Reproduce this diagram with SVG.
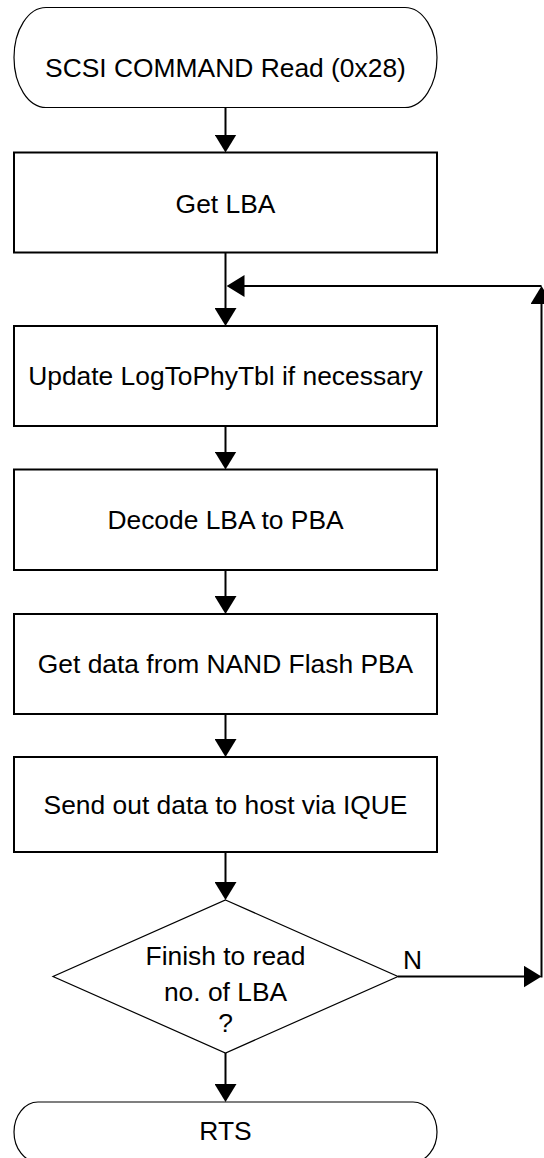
<svg xmlns="http://www.w3.org/2000/svg" width="544" height="1158" viewBox="0 0 544 1158">
  <style>
    .box { fill: #ffffff; stroke: #000000; stroke-width: 2; }
    .term { fill: #ffffff; stroke: #000000; stroke-width: 1.2; }
    .conn { fill: none; stroke: #000000; stroke-width: 2; }
    .lbl { font-family: "Liberation Sans", Arial, Helvetica, sans-serif; font-size: 26.4px; fill: #000000; text-anchor: middle; }
    .lbl-start { text-anchor: start; }
  </style>
  <defs>
    <marker id="arrow" markerUnits="userSpaceOnUse" markerWidth="18" markerHeight="22" viewBox="0 0 18 22" refX="8" refY="11" orient="auto">
      <path d="M0,0 L18,11 L0,22 Z" fill="#000000"/>
    </marker>
  </defs>
  <rect x="0" y="0" width="544" height="1158" fill="#ffffff"/>

  <g id="connectors">
    <line class="conn" x1="225.5" y1="107.5" x2="225.5" y2="142.5" marker-end="url(#arrow)"/>
    <line class="conn" x1="225.5" y1="252.5" x2="225.5" y2="316" marker-end="url(#arrow)"/>
    <line class="conn" x1="225.5" y1="426" x2="225.5" y2="459.5" marker-end="url(#arrow)"/>
    <line class="conn" x1="225.5" y1="570" x2="225.5" y2="604" marker-end="url(#arrow)"/>
    <line class="conn" x1="225.5" y1="714" x2="225.5" y2="747" marker-end="url(#arrow)"/>
    <line class="conn" x1="225.5" y1="852" x2="225.5" y2="890" marker-end="url(#arrow)"/>
    <line class="conn" x1="225.5" y1="1053" x2="225.5" y2="1092" marker-end="url(#arrow)"/>
    <line class="conn" x1="398" y1="976.5" x2="531.5" y2="976.5" marker-end="url(#arrow)"/>
    <line class="conn" x1="541.5" y1="977.5" x2="541.5" y2="296" marker-end="url(#arrow)"/>
    <line class="conn" x1="541.5" y1="286" x2="236.5" y2="286" marker-end="url(#arrow)"/>
  </g>

  <g id="start">
    <rect class="term" x="14" y="7.5" width="423" height="100" rx="32" ry="50"/>
    <text class="lbl" x="225.5" y="77">SCSI COMMAND Read (0x28)</text>
  </g>

  <g id="get-lba">
    <rect class="box" x="14" y="152.5" width="423" height="100"/>
    <text class="lbl" x="225.5" y="213">Get LBA</text>
  </g>

  <g id="update-table">
    <rect class="box" x="14" y="326" width="423" height="100"/>
    <text class="lbl" x="225.5" y="385">Update LogToPhyTbl if necessary</text>
  </g>

  <g id="decode">
    <rect class="box" x="14" y="469.5" width="423" height="100.5"/>
    <text class="lbl" x="225.5" y="528.5">Decode LBA to PBA</text>
  </g>

  <g id="get-data">
    <rect class="box" x="14" y="614" width="423" height="100"/>
    <text class="lbl" x="225.5" y="673">Get data from NAND Flash PBA</text>
  </g>

  <g id="send-data">
    <rect class="box" x="14" y="757" width="423" height="95"/>
    <text class="lbl" x="225.5" y="814">Send out data to host via IQUE</text>
  </g>

  <g id="decision">
    <polygon class="term" points="225.5,900 398,976.5 225.5,1053 53,976.5"/>
    <text class="lbl" x="225.5" y="965">Finish to read</text>
    <text class="lbl" x="225.5" y="1001">no. of LBA</text>
    <text class="lbl" x="225.5" y="1032">?</text>
    <text class="lbl lbl-start" x="403" y="969">N</text>
  </g>

  <g id="end">
    <rect class="term" x="14" y="1102" width="423" height="60" rx="24" ry="30"/>
    <text class="lbl" x="225.5" y="1140">RTS</text>
  </g>
</svg>
